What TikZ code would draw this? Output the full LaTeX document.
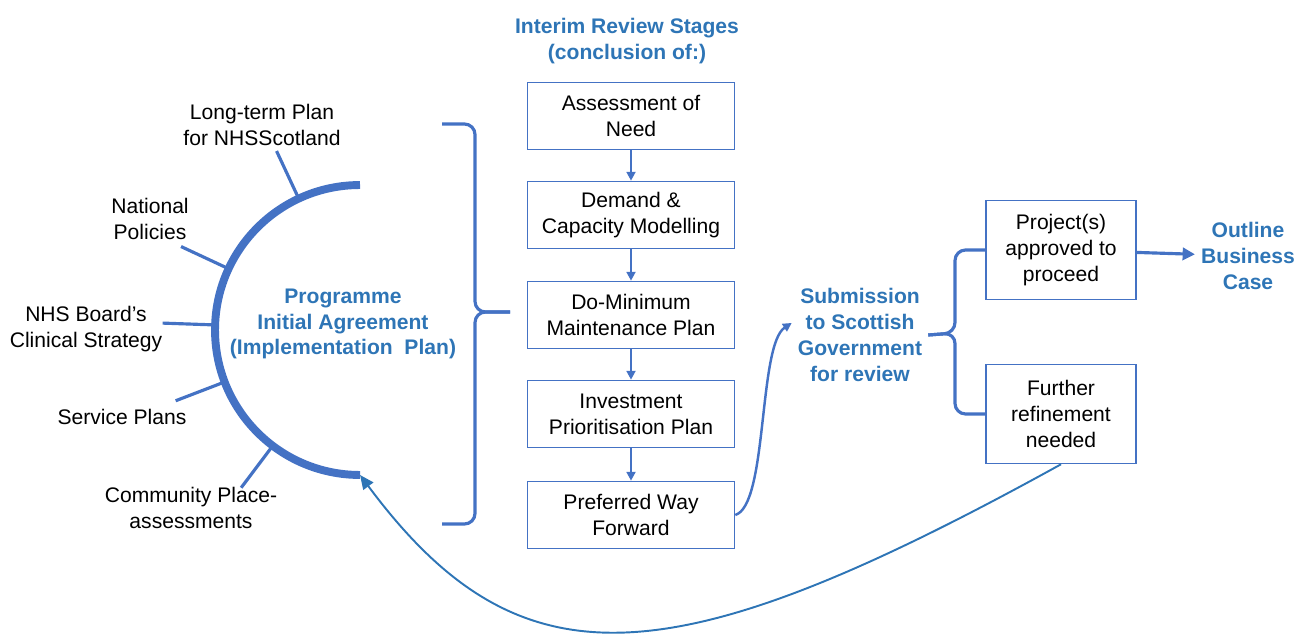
\documentclass[tikz,border=0pt]{standalone}
\usepackage{fontspec}
\setmainfont{Liberation Sans}
\usetikzlibrary{arrows.meta,calc}
\definecolor{ribbon}{RGB}{68,114,196}
\definecolor{heading}{RGB}{46,117,182}
\begin{document}
\begin{tikzpicture}[x=0.02cm, y=-0.02cm,
	font=\fontsize{12}{14.7}\selectfont,
	stage/.style={draw=ribbon, line width=0.9pt, minimum width=4.14cm, minimum height=1.34cm, align=center, inner sep=0pt},
	outcome/.style={stage, minimum width=3cm, minimum height=1.98cm},
	title/.style={text=heading, font=\fontsize{12}{14.7}\selectfont\bfseries, align=center},
	input/.style={align=center},
	link/.style={ribbon, line width=1.4pt, -{Triangle[length=5pt,width=5pt]}},
	brace/.style={ribbon, line width=1.8pt, rounded corners=6pt}]
	\useasboundingbox (0,0) rectangle (1310,634);
	% review stages
	\node[title] (interim) at (627,41) {Interim Review Stages\\(conclusion of:)};
	\node[stage] (need) at (631,116) {Assessment of\\Need};
	\node[stage] (demand) at (631,215) {Demand \&\\Capacity Modelling};
	\node[stage] (minimum) at (631,315) {Do-Minimum\\Maintenance Plan};
	\node[stage] (invest) at (631,414) {Investment\\Prioritisation Plan};
	\node[stage] (preferred) at (631,515) {Preferred Way\\Forward};
	\foreach \a/\b in {need/demand, demand/minimum, minimum/invest, invest/preferred}
		\draw[link] (\a) -- (\b);
	% inputs round the arc
	\node[title] (programme) at (343,324) {Programme\\Initial Agreement\\(Implementation\ \ Plan)};
	\node[input] (longterm) at (262,125) {Long-term Plan\\for NHSScotland};
	\node[input] (policies) at (150,219) {National\\Policies};
	\node[input] (board) at (86,329) {NHS Board’s\\Clinical Strategy};
	\node[input] (service) at (122,417) {Service Plans};
	\node[input] (community) at (191,508) {Community Place-\\assessments};
	\coordinate (hub) at (360,330);
	\coordinate (arctop) at ($(hub)+(90:2.9cm)$);
	\coordinate (arcend) at ($(hub)+(270:2.9cm)$);
	\draw[ribbon, line width=4.5pt] (arctop) arc[start angle=90, end angle=270, radius=2.9cm];
	\foreach \ang in {115,155,178,201,233}
		\draw[ribbon, line width=1.8pt] ($(hub)+(\ang:2.9cm)$) -- ($(hub)+(\ang:3.95cm)$);
	\coordinate (gather) at (510,312);
	\draw[brace] (442,124) -| (475,312) -- (gather);
	\draw[brace] (442,524) -| (475,312) -- (gather);
	% review and outcomes
	\node[title] (submission) at (860,335) {Submission\\to Scottish\\Government\\for review};
	\node[outcome] (approved) at (1061,250) {Project(s)\\approved to\\proceed};
	\node[outcome] (further) at (1061,414) {Further\\refinement\\needed};
	\node[title] (obc) at (1248,256) {Outline\\Business\\Case};
	\draw[link] (preferred.east) .. controls (768,505) and (758,345) .. (submission.170);
	\draw[brace] (approved.west) -| (955,333) -- (submission.east);
	\draw[brace] (further.west) -| (955,333) -- (submission.east);
	\draw[link, line width=1.8pt, -{Triangle[length=7pt,width=7pt]}] (approved) -- (obc);
	\draw[heading, line width=1.1pt, -{Triangle[length=8pt,width=7pt]}] (further.south) .. controls (670,680) and (520,690) .. (arcend);
\end{tikzpicture}
\end{document}
